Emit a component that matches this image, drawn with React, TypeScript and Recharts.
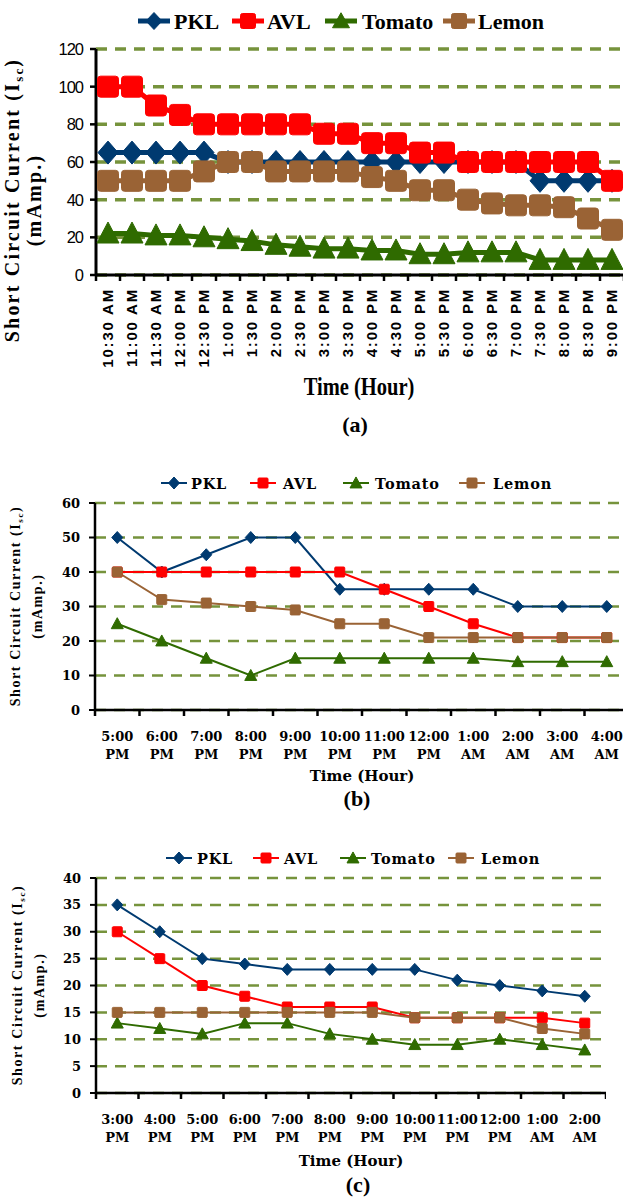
import React from 'react';
import { LineChart, Line, XAxis, YAxis, CartesianGrid, Legend } from 'recharts';

// ---------- DATA ----------
const timesA = ['10:30 AM', '11:00 AM', '11:30 AM', '12:00 PM', '12:30 PM', '1:00 PM', '1:30 PM', '2:00 PM', '2:30 PM', '3:00 PM', '3:30 PM', '4:00 PM', '4:30 PM', '5:00 PM', '5:30 PM', '6:00 PM', '6:30 PM', '7:00 PM', '7:30 PM', '8:00 PM', '8:30 PM', '9:00 PM'];
const pklA = [65, 65, 65, 65, 65, 60, 60, 60, 60, 60, 60, 60, 60, 60, 60, 60, 60, 60, 50, 50, 50, 50];
const avlA = [100, 100, 90, 85, 80, 80, 80, 80, 80, 75, 75, 70, 70, 65, 65, 60, 60, 60, 60, 60, 60, 50];
const tomatoA = [22, 22, 21, 21, 20, 19, 18, 16, 15, 14, 14, 13, 13, 11, 11, 12, 12, 12, 8, 8, 8, 8];
const lemonA = [50, 50, 50, 50, 55, 60, 60, 55, 55, 55, 55, 52, 50, 45, 45, 40, 38, 37, 37, 36, 30, 24];
const yTicksA = [0, 20, 40, 60, 80, 100, 120];

const timesB = ['5:00 PM', '6:00 PM', '7:00 PM', '8:00 PM', '9:00 PM', '10:00 PM', '11:00 PM', '12:00 PM', '1:00 AM', '2:00 AM', '3:00 AM', '4:00 AM'];
const pklB = [50, 40, 45, 50, 50, 35, 35, 35, 35, 30, 30, 30];
const avlB = [40, 40, 40, 40, 40, 40, 35, 30, 25, 21, 21, 21];
const tomatoB = [25, 20, 15, 10, 15, 15, 15, 15, 15, 14, 14, 14];
const lemonB = [40, 32, 31, 30, 29, 25, 25, 21, 21, 21, 21, 21];
const yTicksB = [0, 10, 20, 30, 40, 50, 60];

const timesC = ['3:00 PM', '4:00 PM', '5:00 PM', '6:00 PM', '7:00 PM', '8:00 PM', '9:00 PM', '10:00 PM', '11:00 PM', '12:00 PM', '1:00 AM', '2:00 AM'];
const pklC = [35, 30, 25, 24, 23, 23, 23, 23, 21, 20, 19, 18];
const avlC = [30, 25, 20, 18, 16, 16, 16, 14, 14, 14, 14, 13];
const tomatoC = [13, 12, 11, 13, 13, 11, 10, 9, 9, 10, 9, 8];
const lemonC = [15, 15, 15, 15, 15, 15, 15, 14, 14, 14, 12, 11];
const yTicksC = [0, 5, 10, 15, 20, 25, 30, 35, 40];

const seriesNames = ['PKL', 'AVL', 'Tomato', 'Lemon'];

// ---------- STYLE ----------
const COLORS: Record<string, string> = { PKL: '#003a70', AVL: '#ff0000', Tomato: '#2f6b00', Lemon: '#9a6335' };
const SHAPES: Record<string, string> = { PKL: 'diamond', AVL: 'square', Tomato: 'triangle', Lemon: 'square' };
const GRID = '#76933c';
const SERIF = "'Liberation Serif', 'Times New Roman', serif";
const DJSERIF = "'DejaVu Serif', serif";

const buildRows = (times: string[], p: number[], a: number[], t: number[], l: number[]) =>
  times.map((lab, i) => ({ x: i + 0.5, label: lab, PKL: p[i], AVL: a[i], Tomato: t[i], Lemon: l[i] }));

const rowsA = buildRows(timesA, pklA, avlA, tomatoA, lemonA);
const rowsB = buildRows(timesB, pklB, avlB, tomatoB, lemonB);
const rowsC = buildRows(timesC, pklC, avlC, tomatoC, lemonC);

const halfTicks = (n: number) => Array.from({ length: 2 * n + 1 }, (_, i) => i / 2);

type MSize = { d: [number, number]; s: number; t: [number, number]; r: number };

function Marker({ shape, cx, cy, color, size }: { shape: string; cx: number; cy: number; color: string; size: MSize }) {
  if (shape === 'diamond') {
    const [w, h] = size.d;
    return <path d={`M${cx},${cy - h / 2} L${cx + w / 2},${cy} L${cx},${cy + h / 2} L${cx - w / 2},${cy} Z`} fill={color} stroke={color} strokeWidth={1} />;
  }
  if (shape === 'triangle') {
    const [w, h] = size.t;
    return <path d={`M${cx},${cy - h * 0.55} L${cx + w / 2},${cy + h * 0.45} L${cx - w / 2},${cy + h * 0.45} Z`} fill={color} stroke={color} strokeWidth={1} strokeLinejoin="round" />;
  }
  const s = size.s;
  return <rect x={cx - s / 2} y={cy - s / 2} width={s} height={s} rx={size.r} fill={color} stroke={color} strokeWidth={1} />;
}

const makeDot = (name: string, size: MSize) => (props: any) => {
  const { cx, cy, index } = props;
  if (cx == null || cy == null) return <g key={`d-${name}-${index}`} />;
  return <g key={`d-${name}-${index}`}><Marker shape={SHAPES[name]} cx={cx} cy={cy} color={COLORS[name]} size={size} /></g>;
};

function LegendSvg({ items, cy, lineW, lineLen, size, fontStyle }: any) {
  return (
    <svg width={623} height={30} style={{ display: 'block' }}>
      {seriesNames.map((n, i) => (
        <g key={n}>
          <line x1={items[i][0] - lineLen / 2} x2={items[i][0] + lineLen / 2} y1={cy} y2={cy} stroke={COLORS[n]} strokeWidth={lineW} />
          <Marker shape={SHAPES[n]} cx={items[i][0]} cy={cy} color={COLORS[n]} size={size} />
          <text x={items[i][1]} y={cy} dominantBaseline="central" fill="#000" style={fontStyle}>{n}</text>
        </g>
      ))}
    </svg>
  );
}

// ---------- CHART A ----------
const sizeA: MSize = { d: [20, 23], s: 21, t: [22, 21], r: 3 };
const sizeLegA: MSize = { d: [16, 17], s: 15, t: [17, 15], r: 2 };
const sizeB: MSize = { d: [11, 12], s: 10, t: [12, 11], r: 1 };

const tickA = (props: any) => {
  const { x, y, payload } = props;
  const v = payload.value;
  if (Number.isInteger(v)) return <line x1={x} x2={x} y1={y} y2={y + 6} stroke="#000" strokeWidth={2.5} />;
  const lab = timesA[Math.floor(v)];
  return (
    <text transform={`translate(${x + 5},${y + 13}) rotate(-90)`} textAnchor="end" fill="#000"
      style={{ fontFamily: "'Liberation Sans', Arial, sans-serif", fontWeight: 'bold', fontSize: 15, letterSpacing: 1.8 }}>
      {lab}
    </text>
  );
};

const makeTick2 = (labels: string[], off: number) => (props: any) => {
  const { x, y, payload } = props;
  const v = payload.value;
  if (Number.isInteger(v)) return <line x1={x} x2={x} y1={y} y2={y + 6} stroke="#000" strokeWidth={2.5} />;
  const parts = labels[Math.floor(v)].split(' ');
  return (
    <text x={x} y={y + off} textAnchor="middle" fill="#000" style={{ fontFamily: DJSERIF, fontWeight: 'bold', fontSize: 13 }}>
      <tspan x={x} dy={0}>{parts[0]}</tspan>
      <tspan x={x} dy={18}>{parts[1]}</tspan>
    </text>
  );
};

function YTitle({ x1, x2, cy, size, subSize, spacing }: any) {
  const st: React.CSSProperties = { fontFamily: SERIF, fontWeight: 'bold', fontSize: size, letterSpacing: spacing };
  return (
    <g fill="#000">
      <text transform={`translate(${x1},${cy}) rotate(-90)`} textAnchor="middle" style={st}>
        Short Circuit Current (I<tspan style={{ fontSize: subSize }} dy={size * 0.22}>sc</tspan><tspan dy={-size * 0.22}>)</tspan>
      </text>
      <text transform={`translate(${x2},${cy}) rotate(-90)`} textAnchor="middle" style={st}>
        (mAmp.)
      </text>
    </g>
  );
}

function ChartA() {
  return (
    <LineChart width={624} height={400} data={rowsA} margin={{ top: 49, right: 0, left: 0, bottom: 0 }}>
      <CartesianGrid vertical={false} stroke={GRID} strokeWidth={3.5} strokeDasharray="11 8" />
      <XAxis
        dataKey="x" type="number" domain={[0, timesA.length]} ticks={halfTicks(timesA.length)} interval={0}
        tickSize={0} tickMargin={0} tickLine={false} tick={tickA} height={125}
        axisLine={{ stroke: '#000', strokeWidth: 3 }}
        label={{ content: () => <text x={359} y={387} textAnchor="middle" dominantBaseline="central" transform="translate(359,0) scale(0.82,1) translate(-359,0)" fill="#000" style={{ fontFamily: SERIF, fontWeight: 'bold', fontSize: 25 }}>Time (Hour)</text> }}
      />
      <YAxis
        type="number" domain={[0, 120]} ticks={yTicksA} interval={0} width={96} tickSize={6} tickMargin={7}
        axisLine={{ stroke: '#000', strokeWidth: 3 }} tickLine={{ stroke: '#000', strokeWidth: 2.5 }}
        tick={{ fill: '#000', fontSize: 16.5, letterSpacing: -1, fontFamily: "'Liberation Sans Narrow', 'Liberation Sans', sans-serif" }}
        label={{ content: () => <YTitle x1={19} x2={41} cy={200} size={20} subSize={13} spacing={2.2} /> }}
      />
      <Legend
        verticalAlign="middle" align="center" layout="horizontal"
        wrapperStyle={{ top: 6, left: 0, width: 623, height: 30 }}
        content={() => (
          <LegendSvg items={[[154, 174], [248, 267], [341, 362], [459, 478]]} cy={15} lineW={5} lineLen={32} size={sizeLegA}
            fontStyle={{ fontFamily: SERIF, fontWeight: 'bold', fontSize: 22 }} />
        )}
      />
      {seriesNames.map((n) => (
        <Line key={n} type="linear" dataKey={n} name={n} stroke={COLORS[n]} strokeWidth={5} dot={makeDot(n, sizeA)} activeDot={false} isAnimationActive={false} />
      ))}
    </LineChart>
  );
}

function ChartSmall({ rows, labels, yTicks, yMax, width, yWidth, height, top, xH, legendTop, legendItems, titleX, titleY, yTitleCy, yTitleX }: any) {
  return (
    <LineChart width={width} height={height} data={rows} margin={{ top, right: 0, left: 0, bottom: 0 }}>
      <CartesianGrid vertical={false} stroke={GRID} strokeWidth={2.5} strokeDasharray="11 8" />
      <XAxis
        dataKey="x" type="number" domain={[0, labels.length]} ticks={halfTicks(labels.length)} interval={0}
        tickSize={0} tickMargin={0} tickLine={false} tick={makeTick2(labels, 31)} height={xH}
        axisLine={{ stroke: '#000', strokeWidth: 2.5 }}
        label={{ content: () => <text x={titleX} y={titleY} textAnchor="middle" dominantBaseline="central" fill="#000" style={{ fontFamily: DJSERIF, fontWeight: 'bold', fontSize: 15 }}>Time (Hour)</text> }}
      />
      <YAxis
        type="number" domain={[0, yMax]} ticks={yTicks} interval={0} width={yWidth} tickSize={6} tickMargin={9}
        axisLine={{ stroke: '#000', strokeWidth: 2.5 }} tickLine={{ stroke: '#000', strokeWidth: 2 }}
        tick={{ fill: '#000', fontSize: 13, fontWeight: 'bold', fontFamily: DJSERIF }}
        label={{ content: () => <YTitle x1={yTitleX[0]} x2={yTitleX[1]} cy={yTitleCy} size={14} subSize={9} spacing={1.6} /> }}
      />
      <Legend
        verticalAlign="middle" align="center" layout="horizontal"
        wrapperStyle={{ top: legendTop, left: 0, width: 623, height: 30 }}
        content={() => (
          <LegendSvg items={legendItems} cy={15} lineW={2} lineLen={26} size={sizeB}
            fontStyle={{ fontFamily: DJSERIF, fontWeight: 'bold', fontSize: 14.5, letterSpacing: 0.8 }} />
        )}
      />
      {seriesNames.map((n) => (
        <Line key={n} type="linear" dataKey={n} name={n} stroke={COLORS[n]} strokeWidth={2} dot={makeDot(n, sizeB)} activeDot={false} isAnimationActive={false} />
      ))}
    </LineChart>
  );
}

const captionStyle = (x: number, y: number): React.CSSProperties => ({
  position: 'absolute', left: x, top: y, transform: 'translate(-50%, -50%)',
  fontFamily: SERIF, fontWeight: 'bold', fontSize: 22, color: '#000', whiteSpace: 'nowrap', lineHeight: 1,
});

export default function App() {
  return (
    <div style={{ position: 'absolute', left: 0, top: 0, width: 623, height: 1198, overflow: 'hidden', background: '#fff' }}>
      <div style={{ position: 'absolute', left: 0, top: 0 }}>
        <ChartA />
      </div>
      <div style={captionStyle(355, 425)}>(a)</div>

      <div style={{ position: 'absolute', left: 0, top: 460 }}>
        <ChartSmall rows={rowsB} labels={timesB} yTicks={yTicksB} yMax={60} width={629} yWidth={95} height={340} top={43} xH={90}
          legendTop={8} legendItems={[[174, 191], [263, 283], [356, 375], [472, 493]]}
          titleX={362} titleY={316} yTitleCy={146} yTitleX={[20, 42]} />
      </div>
      <div style={captionStyle(357, 799)}>(b)</div>

      <div style={{ position: 'absolute', left: 0, top: 840 }}>
        <ChartSmall rows={rowsC} labels={timesC} yTicks={yTicksC} yMax={40} width={606} yWidth={96} height={358} top={38} xH={105}
          legendTop={3} legendItems={[[179, 197], [266, 284], [353, 371], [461, 481]]}
          titleX={351} titleY={321} yTitleCy={145} yTitleX={[22, 44]} />
      </div>
      <div style={captionStyle(358, 1185)}>(c)</div>
    </div>
  );
}
